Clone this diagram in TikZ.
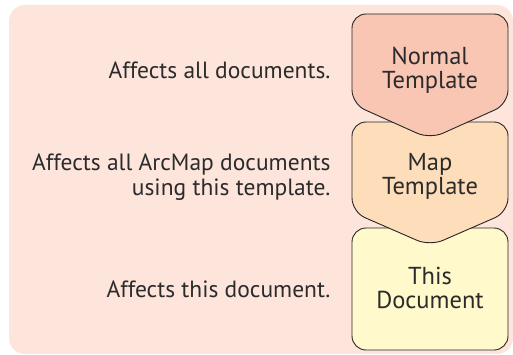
\documentclass[tikz,border=0pt]{standalone}
\usepackage{fontspec}
\setmainfont{PT Sans}
\usepackage{tikz}
\definecolor{bgpink}{HTML}{FDE5DC}
\definecolor{normalfill}{HTML}{F9C6B4}
\definecolor{mapfill}{HTML}{FDDDBA}
\definecolor{docfill}{HTML}{FFF9CC}
\definecolor{inktext}{HTML}{2B2B2B}
\tikzset{
  levelbox/.style={draw=black!85,line width=0.9pt,rounded corners=14pt},
  boxtext/.style={align=center,font=\fontsize{24.5}{24}\selectfont,text=inktext},
  sidetext/.style={anchor=east,align=right,font=\fontsize{23.5}{25}\selectfont,text=inktext},
}

\begin{document}
\begin{tikzpicture}[x=1pt,y=-1pt]
    \useasboundingbox (0,0) rectangle (513,355);
    \fill[bgpink, rounded corners=16pt] (9,5) rectangle (513,354);
    % bottom box first, the ones above overlap it
    \draw[levelbox, fill=docfill] (352,228) rectangle (508,350);
    \draw[levelbox, fill=mapfill] (352,212) -- (352,122) -- (508,122) -- (508,212) -- (430,246) -- cycle;
    \draw[levelbox, fill=normalfill] (352,104) -- (352,14) -- (508,14) -- (508,104) -- (430,139) -- cycle;
    \node[boxtext] (normal) at (430,70) {Normal\\Template};
    \node[boxtext] (map) at (430,176) {Map\\Template};
    \node[boxtext] (doc) at (430,288) {This\\Document};
    \node[sidetext] (alldocs) at (334,70) {Affects all documents.};
    \node[sidetext] (arcmap) at (334,177) {Affects all ArcMap documents\\using this template.};
    \node[sidetext] (thisdoc) at (334,289) {Affects this document.};
\end{tikzpicture}
\end{document}
